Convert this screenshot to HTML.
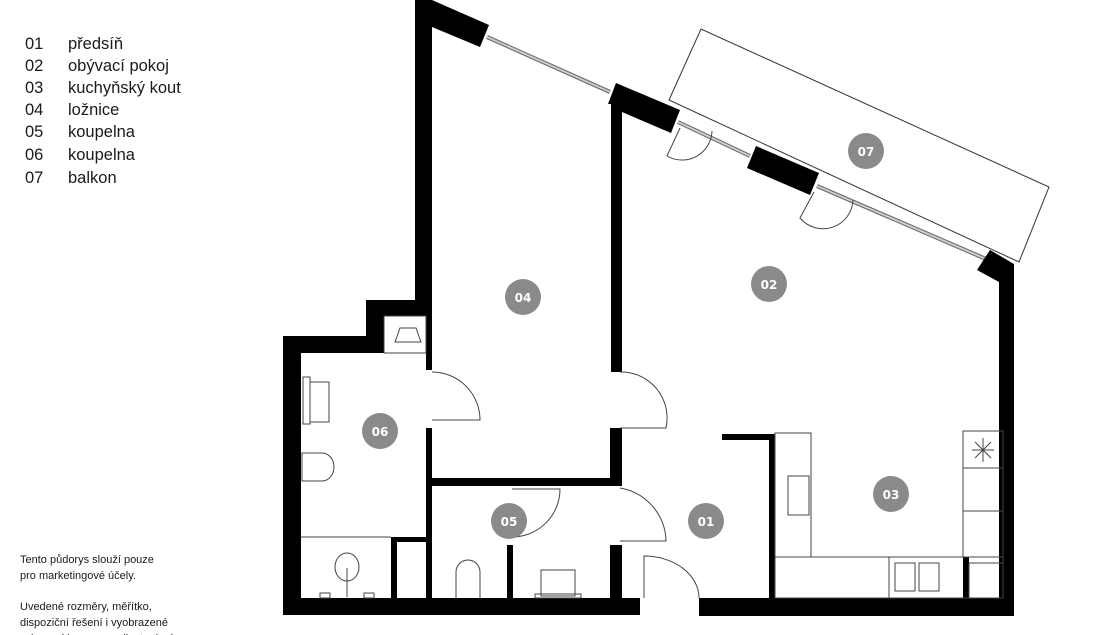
<!DOCTYPE html>
<html><head><meta charset="utf-8"><style>
body{margin:0;background:#fff;width:1111px;height:635px;overflow:hidden;font-family:"Liberation Sans",sans-serif}
svg{position:absolute;left:0;top:0}
.t{font-family:"Liberation Sans",sans-serif}
</style></head><body>
<svg width="1111" height="635" viewBox="0 0 1111 635" xmlns="http://www.w3.org/2000/svg">
<g class="t" fill="#1a1a1a" style="font-size:16.5px">
<text x="25" y="49">01</text><text x="68" y="49">předsíň</text>
<text x="25" y="71">02</text><text x="68" y="71">obývací pokoj</text>
<text x="25" y="93">03</text><text x="68" y="93">kuchyňský kout</text>
<text x="25" y="115">04</text><text x="68" y="115">ložnice</text>
<text x="25" y="137">05</text><text x="68" y="137">koupelna</text>
<text x="25" y="160">06</text><text x="68" y="160">koupelna</text>
<text x="25" y="183">07</text><text x="68" y="183">balkon</text>
</g>
<g class="t" fill="#1a1a1a" style="font-size:11px">
<text x="20" y="563">Tento půdorys slouží pouze</text>
<text x="20" y="579">pro marketingové účely.</text>
<text x="20" y="610">Uvedené rozměry, měřítko,</text>
<text x="20" y="626">dispoziční řešení i vyobrazené</text>
<text x="20" y="642">vybavení jsou pouze ilustrativní</text>
</g>
<!-- balcony -->
<polygon points="669,100 701,29 1049,187 1019,262" fill="none" stroke="#333" stroke-width="1"/>
<!-- windows -->
<g stroke="#666" stroke-width="4" fill="none">
<line x1="487" y1="37" x2="610" y2="92"/>
<line x1="678" y1="122" x2="750" y2="156"/>
<line x1="817" y1="186" x2="986" y2="259"/>
</g>
<g stroke="#ccc" stroke-width="2" fill="none">
<line x1="487" y1="37" x2="610" y2="92"/>
<line x1="678" y1="122" x2="750" y2="156"/>
<line x1="817" y1="186" x2="986" y2="259"/>
</g>
<g fill="#000">
<polygon points="415,0 432,0 489,25 480,47 432,27 432,316 415,316"/>
<polygon points="616,83 680,110 671,133 622,112 622,372 611,372 611,104 608,104"/>
<polygon points="756,146 819,173 810,195 747,168"/>
<polygon points="990,250 1014,264 1014,616 999,616 999,282 977,270"/>
<polygon points="366,300 432,300 432,316 384,316 384,353 301,353 301,598 640,598 640,615 283,615 283,336 366,336"/>
<rect x="426" y="316" width="6" height="54"/>
<rect x="426" y="428" width="6" height="170"/>
<rect x="426" y="478" width="196" height="8"/>
<rect x="610" y="428" width="12" height="58"/>
<rect x="610" y="545" width="12" height="53"/>
<rect x="507" y="545" width="6" height="53"/>
<rect x="391" y="537" width="41" height="5"/>
<rect x="391" y="537" width="6" height="61"/>
<rect x="699" y="598" width="315" height="18"/>
<rect x="722" y="434" width="53" height="6"/>
<rect x="769" y="434" width="6" height="164"/>
<rect x="963" y="557" width="6" height="41"/>
</g>
<g fill="none" stroke="#444" stroke-width="1">
<path d="M432,372 A48,48 0 0 1 480,420 L432,420"/>
<path d="M620,372 A46,46 0 0 1 666,428 L620,428"/>
<path d="M620,488 A55,55 0 0 1 666,541 L620,541"/>
<path d="M644,598 L644,556 A55,42 0 0 1 699,598"/>
<path d="M512,489 L560,489 A48,48 0 0 1 512,537"/>
<path d="M712,131 A30,30 0 0 1 667,156 L680,128"/>
<path d="M853,200 A30,30 0 0 1 800,218 L814,192"/>
<line x1="301" y1="537" x2="391" y2="537"/>
<rect x="775" y="433" width="36" height="124"/>
<rect x="788" y="476" width="21" height="39"/>
<rect x="775" y="557" width="228" height="41"/>
<line x1="889" y1="557" x2="889" y2="598"/>
<rect x="895" y="563" width="20" height="28"/>
<rect x="919" y="563" width="20" height="28"/>
<rect x="963" y="431" width="40" height="126"/>
<line x1="963" y1="468" x2="1003" y2="468"/>
<line x1="963" y1="511" x2="1003" y2="511"/>
<rect x="969" y="563" width="34" height="35"/>
<path d="M983,438 v24 M972,450 h22 M975,442 l16,16 M991,442 l-16,16"/>
<rect x="384" y="316" width="42" height="37"/>
<path d="M395,342 l5,-14 h16 l5,14 z"/>
<rect x="303" y="377" width="7" height="47"/>
<rect x="310" y="382" width="19" height="40"/>
<path d="M302,453 h20 a12,14 0 0 1 0,28 h-20 z"/>
<ellipse cx="347" cy="567" rx="12" ry="14"/>
<line x1="347" y1="568" x2="347" y2="597"/>
<path d="M456,598 v-26 a12,12 0 0 1 24,0 v26"/>
<rect x="541" y="570" width="34" height="26"/>
<rect x="535" y="594" width="46" height="4"/>
<rect x="320" y="593" width="10" height="5"/><rect x="364" y="593" width="10" height="5"/>
</g>
<g fill="#8a8a8a">
<circle cx="523" cy="297" r="18"/><circle cx="769" cy="284" r="18"/>
<circle cx="866" cy="151" r="18"/><circle cx="380" cy="431" r="18"/>
<circle cx="509" cy="521" r="18"/><circle cx="706" cy="521" r="18"/>
<circle cx="891" cy="494" r="18"/>
</g>
<g fill="#fff" style="font-family:'DejaVu Sans',sans-serif;font-weight:bold;font-size:12px" text-anchor="middle">
<text x="523" y="302">04</text><text x="769" y="289">02</text>
<text x="866" y="156">07</text><text x="380" y="436">06</text>
<text x="509" y="526">05</text><text x="706" y="526">01</text>
<text x="891" y="499">03</text>
</g>
</svg>
</body></html>
